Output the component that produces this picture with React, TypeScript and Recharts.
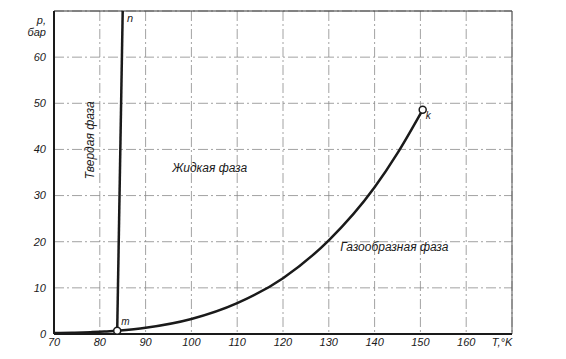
import React from 'react';
import { LineChart, Line, XAxis, YAxis, CartesianGrid, ReferenceDot, ReferenceLine } from 'recharts';

const X_TICKS = [70, 80, 90, 100, 110, 120, 130, 140, 150, 160, 170];
const Y_TICKS = [0, 10, 20, 30, 40, 50, 60, 70];

// sublimation curve (solid - gas)
const subT = [70, 74, 78, 81, 83.8];
const subP = [0.2, 0.28, 0.4, 0.52, 0.69];

// vaporization curve m -> K
const vapT = [83.8, 90, 100, 110, 120, 130, 140, 145, 150.5];
const vapP = [0.69, 1.34, 3.24, 6.67, 12.1, 20.3, 31.8, 39.2, 48.6];

// melting line m -> n
const meltT = [83.8, 85.0];
const meltP = [0.69, 70];

const subData = subT.map((t, i) => ({ t, p: subP[i] }));
const vapData = vapT.map((t, i) => ({ t, p: vapP[i] }));
const meltData = meltT.map((t, i) => ({ t, p: meltP[i] }));

const FONT = '"Liberation Sans", Arial, sans-serif';
const INK = '#1a1a1a';

const XTick = (props: any) => {
  const { x, y, payload } = props;
  const v = payload.value;
  return (
    <text x={v === 170 ? x - 10 : x} y={y} dy="0.71em" textAnchor="middle" fontFamily={FONT} fontStyle="italic" fontSize={11} fill={INK}>
      {v === 170 ? 'T,°K' : v}
    </text>
  );
};

const YTick = (props: any) => {
  const { x, y, payload } = props;
  const v = payload.value;
  if (v === 70) {
    return (
      <text x={x} y={y} textAnchor="end" fontFamily={FONT} fontStyle="italic" fontSize={11} fill={INK}>
        <tspan x={x} dy="0.6em">р,</tspan>
        <tspan x={x} dy="1.15em">бар</tspan>
      </text>
    );
  }
  return (
    <text x={x} y={y} dy="0.355em" textAnchor="end" fontFamily={FONT} fontStyle="italic" fontSize={11} fill={INK}>
      {v}
    </text>
  );
};

const note = (txt: string, size = 11, rotate = 0) => (p: any) => (
  <text
    x={p.cx}
    y={p.cy}
    textAnchor="middle"
    dominantBaseline="central"
    fontFamily={FONT}
    fontStyle="italic"
    fontSize={size}
    fill={INK}
    transform={rotate ? `rotate(${rotate} ${p.cx} ${p.cy})` : undefined}
  >
    {txt}
  </text>
);

export default function App() {
  return (
    <LineChart width={550} height={345} margin={{ top: 3, right: 46, bottom: 1, left: 16 }}>
      <CartesianGrid stroke="#8a8a8a" strokeWidth={0.8} strokeDasharray="10 3 2 3" />
      <XAxis
        type="number"
        dataKey="t"
        domain={[70, 170]}
        ticks={X_TICKS}
        allowDataOverflow
        tick={<XTick />}
        tickLine={false}
        tickSize={0}
        tickMargin={4}
        height={18}
        axisLine={{ stroke: INK, strokeWidth: 2 }}
      />
      <YAxis
        type="number"
        dataKey="p"
        domain={[0, 70]}
        ticks={Y_TICKS}
        allowDataOverflow
        tick={<YTick />}
        tickLine={false}
        tickSize={0}
        tickMargin={8}
        width={30}
        axisLine={{ stroke: INK, strokeWidth: 2 }}
      />
      <ReferenceLine y={70} stroke="#333" strokeWidth={1} />
      <ReferenceLine x={170} stroke="#555" strokeWidth={1} />
      <Line data={subData} dataKey="p" type="monotone" stroke={INK} strokeWidth={2.5} dot={false} isAnimationActive={false} />
      <Line data={vapData} dataKey="p" type="monotone" stroke={INK} strokeWidth={2.5} dot={false} isAnimationActive={false} />
      <Line data={meltData} dataKey="p" type="linear" stroke={INK} strokeWidth={2.5} dot={false} isAnimationActive={false} />
      <ReferenceDot x={83.8} y={0.69} r={3.5} fill="#fff" stroke={INK} strokeWidth={1.5} />
      <ReferenceDot x={150.5} y={48.6} r={3.5} fill="#fff" stroke={INK} strokeWidth={1.5} />
      <ReferenceDot x={86.6} y={68.5} r={0} shape={note('n', 11)} />
      <ReferenceDot x={85.6} y={2.8} r={0} shape={note('m', 10)} />
      <ReferenceDot x={151.7} y={47.3} r={0} shape={note('k', 10)} />
      <ReferenceDot x={77.8} y={42} r={0} shape={note('Твердая фаза', 12, -90)} />
      <ReferenceDot x={104} y={36} r={0} shape={note('Жидкая фаза', 12)} />
      <ReferenceDot x={144.3} y={18.8} r={0} shape={note('Газообразная фаза', 12)} />
    </LineChart>
  );
}
